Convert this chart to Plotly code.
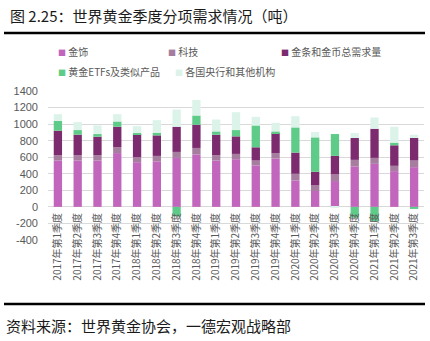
import plotly.graph_objects as go

# ---------------- data ----------------
categories = [
    "2017年第1季度", "2017年第2季度", "2017年第3季度", "2017年第4季度",
    "2018年第1季度", "2018年第2季度", "2018年第3季度", "2018年第4季度",
    "2019年第1季度", "2019年第2季度", "2019年第3季度", "2019年第4季度",
    "2020年第1季度", "2020年第2季度", "2020年第3季度", "2020年第4季度",
    "2021年第1季度", "2021年第2季度", "2021年第3季度",
]
jewellery = [560, 560, 560, 650, 540, 550, 592, 632, 560, 576, 500, 584, 320, 192, 312, 488, 520, 432, 480]
technology = [65, 64, 64, 70, 60, 66, 72, 80, 64, 64, 60, 64, 80, 72, 80, 80, 72, 64, 80]
bar_coin = [295, 248, 224, 248, 280, 248, 304, 280, 248, 212, 160, 244, 256, 160, 224, 264, 352, 248, 272]
etfs = [120, 56, 32, 64, 12, 32, -115, 112, 40, 76, 264, 20, 304, 416, 264, -130, -175, 32, -25]
central_banks = [80, 96, 104, 88, 84, 152, 208, 188, 144, 216, 104, 104, 136, 64, -12, 60, 136, 192, 40]

series_names = ["金饰", "科技", "金条和金币总需求量", "黄金ETFs及类似产品", "各国央行和其他机构"]
series_values = [jewellery, technology, bar_coin, etfs, central_banks]
series_colors = ["#C265BC", "#A67C9F", "#7B2B6E", "#5FCB88", "#DCF3EA"]

y_ticks = [-400, -200, 0, 200, 400, 600, 800, 1000, 1200, 1400]
y_tick_labels = [str(v) for v in y_ticks]

title_text = "图 2.25：世界黄金季度分项需求情况（吨）"
source_text = "资料来源：世界黄金协会，一德宏观战略部"

# ---------------- layout helpers ----------------
W, H = 430, 341
def px_x(x):
    return x / W
def px_y(y):
    return 1 - y / H

PLOT_L, PLOT_R, PLOT_T, PLOT_B = 48, 424, 91, 240
YMIN, YMAX = y_ticks[0], y_ticks[-1]
xdom = [px_x(PLOT_L), px_x(PLOT_R)]
ydom = [px_y(PLOT_B), px_y(PLOT_T)]
zero_pos = ydom[0] + (0 - YMIN) / (YMAX - YMIN) * (ydom[1] - ydom[0])

CJK = "Noto Sans CJK SC, Liberation Sans, sans-serif"
NUM = "Liberation Sans, Noto Sans CJK SC, sans-serif"

fig = go.Figure()
for name, vals, col in zip(series_names, series_values, series_colors):
    fig.add_trace(go.Bar(x=categories, y=vals, name=name, marker_color=col,
                         marker_line_width=0, showlegend=False))

fig.update_layout(
    width=W, height=H,
    margin=dict(l=0, r=0, t=0, b=0),
    paper_bgcolor="white", plot_bgcolor="white",
    barmode="relative", bargap=0.58,
    template="none",
    font=dict(family=CJK, color="#595959"),
    xaxis=dict(domain=xdom, type="category", anchor="free", position=zero_pos,
               tickangle=-90, tickfont=dict(size=10, family=CJK, color="#595959"),
               showgrid=False, showline=False, zeroline=False, ticks="",
               ticklabelstandoff=3, automargin=False),
    yaxis=dict(domain=ydom, range=[YMIN, YMAX], tickvals=y_ticks, ticktext=y_tick_labels,
               tickfont=dict(size=11, family=NUM, color="#595959"),
               showgrid=True, gridcolor="#D9D9D9", gridwidth=1,
               zeroline=False, showline=False, ticks="",
               ticklabelstandoff=9, automargin=False),
)

# title, rules, source
fig.add_annotation(x=px_x(8), y=px_y(16), xref="paper", yref="paper",
                   text=title_text, showarrow=False, xanchor="left", yanchor="middle",
                   font=dict(size=15, family=CJK, color="#1a1a1a"))
fig.add_annotation(x=px_x(4), y=px_y(325), xref="paper", yref="paper",
                   text=source_text, showarrow=False, xanchor="left", yanchor="middle",
                   font=dict(size=15, family=CJK, color="#1a1a1a"))
for ly in (33, 304):
    fig.add_shape(type="line", xref="paper", yref="paper",
                  x0=px_x(4), x1=px_x(425), y0=px_y(ly), y1=px_y(ly),
                  line=dict(color="black", width=2.5))

# legend (manual, Excel-style small squares)
legend_pos = [(56, 52), (166, 52), (279, 52), (56, 71), (173, 71)]
for (lx, ly), name, col in zip(legend_pos, series_names, series_colors):
    fig.add_annotation(x=px_x(lx), y=px_y(ly), xref="paper", yref="paper",
                       text=f'<span style="color:{col};font-size:8px">■</span> {name}',
                       showarrow=False, xanchor="left", yanchor="middle",
                       font=dict(size=10, family=CJK, color="#595959"))

fig.write_html("out.html")
